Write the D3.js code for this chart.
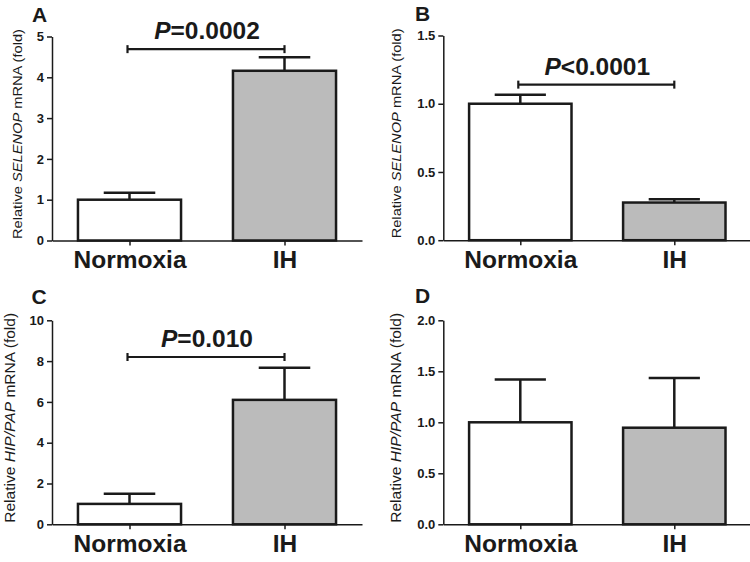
<!DOCTYPE html>
<html><head><meta charset="utf-8">
<script src="https://cdn.jsdelivr.net/npm/d3@7"></script>
<style>
body{margin:0;background:#fff}
svg{display:block}
text{font-family:"Liberation Sans",Arial,Helvetica,sans-serif;fill:#1a1a1a}
</style>
</head><body>
<svg id="chart" width="750" height="562"></svg>
<script>
// ---- data ----
const categories = ["Normoxia", "IH"];
const panelLetters = ["A", "B", "C", "D"];
const geneNames = ["SELENOP", "SELENOP", "HIP/PAP", "HIP/PAP"];

const meanA = [1.0, 4.16];
const semA  = [0.17, 0.33];
const meanB = [1.0, 0.276];
const semB  = [0.066, 0.024];
const meanC = [1.0, 6.1];
const semC  = [0.5, 1.58];
const meanD = [1.0, 0.947];
const semD  = [0.42, 0.487];

const yMaxes = [5, 1.5, 10, 2];
const ticksA = [0, 1, 2, 3, 4, 5];
const ticksB = [0, 0.5, 1.0, 1.5];
const ticksC = [0, 2, 4, 6, 8, 10];
const ticksD = [0, 0.5, 1.0, 1.5, 2.0];
const tickLabelsA = ["0", "1", "2", "3", "4", "5"];
const tickLabelsB = ["0.0", "0.5", "1.0", "1.5"];
const tickLabelsC = ["0", "2", "4", "6", "8", "10"];
const tickLabelsD = ["0.0", "0.5", "1.0", "1.5", "2.0"];

const pRelations = ["=0.0002", "<0.0001", "=0.010", null];
const bracketLevels = [4.69, 1.14, 8.2, null];

// ---- layout (positions / styles) ----
const layout = [
  {ax: 52,    top: 36.5,  bottom: 240.5, width: 310, titleX: 22,    titleSize: 13.5, lx: 32,  ly: 21.5},
  {ax: 443.3, top: 35.5,  bottom: 240.2, width: 308, titleX: 401,   titleSize: 13.5, lx: 415, ly: 20.7},
  {ax: 52,    top: 320.3, bottom: 524.3, width: 310, titleX: 14.5,  titleSize: 15, lx: 31.5, ly: 303.5},
  {ax: 443.3, top: 320.3, bottom: 524.3, width: 308, titleX: 401,   titleSize: 15, lx: 415, ly: 302.7}
];

const means = [meanA, meanB, meanC, meanD];
const sems = [semA, semB, semC, semD];
const tickVals = [ticksA, ticksB, ticksC, ticksD];
const tickLabs = [tickLabelsA, tickLabelsB, tickLabelsC, tickLabelsD];
const fills = ["#ffffff", "#bbbbbb"];
const ink = "#1a1a1a";

const svg = d3.select("#chart");

layout.forEach((L, i) => {
  const g = svg.append("g");
  const y = d3.scaleLinear().domain([0, yMaxes[i]]).range([L.bottom, L.top]);
  const x = d3.scalePoint().domain(categories).range([L.ax, L.ax + L.width]).padding(0.5);
  const step = x.step();
  const bw = step * 0.665;

  const data = categories.map((c, k) => ({c, v: means[i][k], e: sems[i][k], k}));

  // error bars
  g.selectAll(".err").data(data).join("line")
    .attr("x1", d => x(d.c)).attr("x2", d => x(d.c))
    .attr("y1", d => y(d.v)).attr("y2", d => y(d.v + d.e))
    .attr("stroke", ink).attr("stroke-width", 2.5);
  g.selectAll(".cap").data(data).join("line")
    .attr("x1", d => x(d.c) - bw / 4).attr("x2", d => x(d.c) + bw / 4)
    .attr("y1", d => y(d.v + d.e)).attr("y2", d => y(d.v + d.e))
    .attr("stroke", ink).attr("stroke-width", 2.5);

  // bars
  g.selectAll(".bar").data(data).join("rect")
    .attr("x", d => x(d.c) - bw / 2)
    .attr("y", d => y(d.v))
    .attr("width", bw)
    .attr("height", d => y(0) - y(d.v))
    .attr("fill", d => fills[d.k])
    .attr("stroke", ink).attr("stroke-width", 2.5);

  // y axis
  const yAxis = d3.axisLeft(y).tickValues(tickVals[i])
    .tickFormat((d, j) => tickLabs[i][j]).tickSize(5).tickSizeOuter(0).tickPadding(3);
  const ya = g.append("g").attr("transform", `translate(${L.ax},0)`).call(yAxis);
  ya.select(".domain").attr("stroke", ink).attr("stroke-width", 1.5);
  ya.selectAll(".tick line").attr("stroke", ink).attr("stroke-width", 1.5);
  ya.selectAll(".tick text").attr("font-size", 13).attr("font-weight", "bold")
    .attr("fill", ink).style("font-family", '"Liberation Sans",Arial,sans-serif');

  // x axis
  const xAxis = d3.axisBottom(x).tickSize(5).tickSizeOuter(0).tickPadding(5);
  const xa = g.append("g").attr("transform", `translate(0,${L.bottom})`).call(xAxis);
  xa.select(".domain").attr("stroke", ink).attr("stroke-width", 1.5);
  xa.selectAll(".tick line").attr("stroke", ink).attr("stroke-width", 1.5);
  xa.selectAll(".tick text").attr("font-size", 24.5).attr("font-weight", "bold")
    .attr("fill", ink).style("font-family", '"Liberation Sans",Arial,sans-serif');

  // y title
  const cy = (L.top + L.bottom) / 2 - 4.5;
  const t = g.append("text")
    .attr("transform", `translate(${L.titleX},${cy}) rotate(-90)`)
    .attr("text-anchor", "middle")
    .attr("font-size", L.titleSize)
    .attr("textLength", 210).attr("lengthAdjust", "spacingAndGlyphs");
  t.append("tspan").text("Relative ");
  t.append("tspan").attr("font-style", "italic").text(geneNames[i]);
  t.append("tspan").text(" mRNA (fold)");

  // panel letter
  g.append("text").attr("x", L.lx).attr("y", L.ly)
    .attr("font-size", 21).attr("font-weight", "bold").text(panelLetters[i]);

  // significance bracket
  if (pRelations[i] !== null) {
    const by = y(bracketLevels[i]);
    const x0 = x(categories[0]) - 2, x1 = x(categories[1]);
    const bg = g.append("g").attr("stroke", ink).attr("stroke-width", 2.2);
    bg.append("line").attr("x1", x0).attr("x2", x1).attr("y1", by).attr("y2", by);
    bg.append("line").attr("x1", x0).attr("x2", x0).attr("y1", by - 4).attr("y2", by + 4);
    bg.append("line").attr("x1", x1).attr("x2", x1).attr("y1", by - 4).attr("y2", by + 4);
    const pt = g.append("text").attr("x", (x0 + x1) / 2 + 1).attr("y", by - 10)
      .attr("text-anchor", "middle").attr("font-size", 24.5).attr("font-weight", "bold");
    pt.append("tspan").attr("font-style", "italic").text("P");
    pt.append("tspan").text(pRelations[i]);
  }
});
</script>
</body></html>
